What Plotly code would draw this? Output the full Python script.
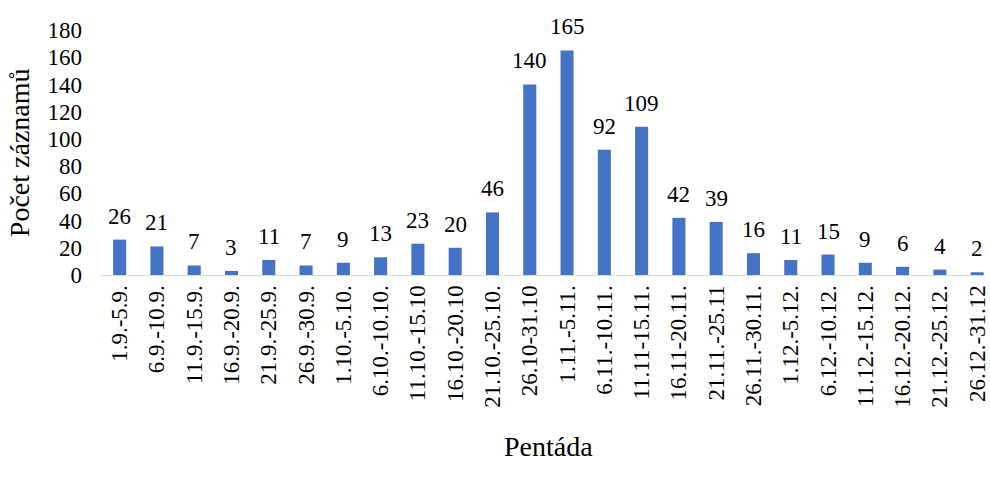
import plotly.graph_objects as go

# Five-day periods (pentády) and number of records in each
pentady = [
    "1.9.-5.9.", "6.9.-10.9.", "11.9.-15.9.", "16.9.-20.9.", "21.9.-25.9.",
    "26.9.-30.9.", "1.10.-5.10.", "6.10.-10.10.", "11.10.-15.10", "16.10.-20.10",
    "21.10.-25.10.", "26.10-31.10", "1.11.-5.11.", "6.11.-10.11.", "11.11-15.11.",
    "16.11-20.11.", "21.11.-25.11", "26.11.-30.11.", "1.12.-5.12.", "6.12.-10.12.",
    "11.12.-15.12.", "16.12.-20.12.", "21.12.-25.12.", "26.12.-31.12",
]
pocty = [26, 21, 7, 3, 11, 7, 9, 13, 23, 20, 46, 140, 165, 92, 109,
         42, 39, 16, 11, 15, 9, 6, 4, 2]
y_ticks = [0, 20, 40, 60, 80, 100, 120, 140, 160, 180]

FONT = "Liberation Serif"
positions = list(range(len(pentady)))

fig = go.Figure(
    go.Bar(
        x=positions,
        y=pocty,
        width=0.35,
        marker=dict(color="#4472C4", line=dict(width=0)),
    )
)

# value labels sitting above each bar
value_labels = [
    dict(
        x=xi, y=v, xref="x", yref="y", text=str(v),
        showarrow=False, xanchor="center", yanchor="bottom", yshift=9,
        font=dict(family=FONT, size=23, color="#000000"),
    )
    for xi, v in zip(positions, pocty)
]

axis_titles = [
    dict(
        text="Počet záznamů", textangle=-90,
        xref="paper", yref="paper", x=-0.092, y=0.5,
        xanchor="center", yanchor="middle", showarrow=False,
        font=dict(family=FONT, size=28, color="#000000"),
    ),
    dict(
        text="Pentáda",
        xref="paper", yref="paper", x=0.506, y=-0.698,
        xanchor="center", yanchor="middle", showarrow=False,
        font=dict(family=FONT, size=28, color="#000000"),
    ),
]

fig.update_layout(
    width=990,
    height=484,
    margin=dict(l=101, r=0, t=30, b=209),
    plot_bgcolor="white",
    paper_bgcolor="white",
    showlegend=False,
    font=dict(family=FONT, size=23, color="#000000"),
    xaxis=dict(
        tickmode="array",
        tickvals=positions,
        ticktext=pentady,
        tickangle=-90,
        range=[-0.5, 23.21],
        showline=True,
        linecolor="#D9D9D9",
        linewidth=1,
        showgrid=False,
        ticks="",
        ticklabeloverflow="allow",
        tickfont=dict(family=FONT, size=23, color="#000000"),
    ),
    yaxis=dict(
        range=[0, 180],
        tickvals=y_ticks,
        showgrid=False,
        zeroline=False,
        showline=False,
        ticks="",
        ticklabelstandoff=18,
        tickfont=dict(family=FONT, size=23, color="#000000"),
    ),
    annotations=value_labels + axis_titles,
)

fig.write_html("out.html")
